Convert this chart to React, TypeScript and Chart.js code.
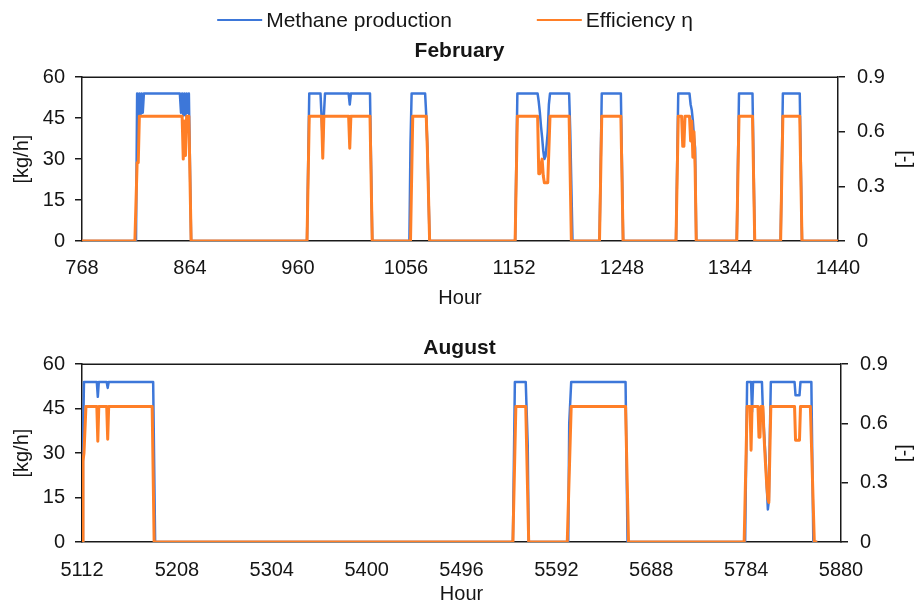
import React, { useEffect, useRef } from "react";
import { Chart, registerables } from "chart.js";

Chart.register(...registerables);

const FONT = "'Liberation Sans', Arial, Helvetica, sans-serif";
const BLUE = "#3D77D9";
const ORANGE = "#FF7F27";
const TEXT = "#151515";
const AXIS = "#1a1a1a";

const legendLabels = ["Methane production", "Efficiency η"];
const xAxisTitle = "Hour";
const leftAxisTitle = "[kg/h]";
const rightAxisTitle = "[-]";

const febTicks = [768, 864, 960, 1056, 1152, 1248, 1344, 1440];
const augTicks = [5112, 5208, 5304, 5400, 5496, 5592, 5688, 5784, 5880];
const methaneTicks = [0, 15, 30, 45, 60];
const effTicks = [0, 0.3, 0.6, 0.9];

// February – methane production [kg/h]
const febMethaneHours = [
  768, 816, 817, 818, 819, 820, 821, 822, 823, 855, 856, 857, 858, 859, 860, 861, 862, 863, 865,
  968, 970, 980, 981, 982, 983, 984, 1005, 1006, 1007, 1024, 1026,
  1059, 1060, 1061, 1073, 1074, 1075, 1077,
  1153, 1155, 1173, 1174, 1175, 1176, 1177, 1178, 1179, 1180, 1181, 1182, 1183, 1184, 1201, 1202, 1204,
  1228, 1230, 1247, 1249,
  1296, 1298, 1308, 1309, 1310, 1311, 1312, 1313, 1314,
  1350, 1352, 1364, 1366,
  1389, 1391, 1406, 1408,
  1440,
];
const febMethaneValues = [
  0, 0, 54, 46, 54, 46, 54, 47, 54, 54, 47, 54, 46, 54, 46, 54, 47, 54, 0,
  0, 54, 54, 45, 36, 46, 54, 54, 50, 54, 54, 0,
  0, 36, 54, 54, 46, 35, 0,
  0, 54, 54, 51, 47, 42, 38, 33, 30, 31, 35, 40, 50, 54, 54, 40, 0,
  0, 54, 54, 0,
  0, 54, 54, 50, 48, 44, 38, 34, 0,
  0, 54, 54, 0,
  0, 54, 54, 0,
  0,
];

// February – efficiency η [-]
const febEffHours = [
  768, 815, 817, 818, 819, 857, 858, 859, 860, 861, 863, 865,
  968, 970, 981, 982, 983, 1005, 1006, 1007, 1024, 1026,
  1060, 1062, 1074, 1075, 1077,
  1153, 1155, 1173, 1174, 1175, 1176, 1177, 1178, 1179, 1180, 1181, 1182, 1184, 1201, 1203,
  1228, 1230, 1247, 1249,
  1296, 1298, 1301, 1302, 1303, 1304, 1308, 1309, 1310, 1311, 1312, 1313, 1314,
  1350, 1352, 1364, 1366,
  1389, 1391, 1406, 1408,
  1440,
];
const febEffValues = [
  0, 0, 0.43, 0.43, 0.685, 0.685, 0.45, 0.66, 0.47, 0.685, 0.685, 0,
  0, 0.685, 0.685, 0.455, 0.685, 0.685, 0.51, 0.685, 0.685, 0,
  0, 0.685, 0.685, 0.5, 0,
  0, 0.685, 0.685, 0.37, 0.37, 0.42, 0.45, 0.36, 0.32, 0.32, 0.32, 0.32, 0.685, 0.685, 0,
  0, 0.685, 0.685, 0,
  0, 0.685, 0.685, 0.52, 0.52, 0.685, 0.685, 0.55, 0.66, 0.46, 0.6, 0.4, 0,
  0, 0.685, 0.685, 0,
  0, 0.685, 0.685, 0,
  0,
];

// August – methane production [kg/h]
const augMethaneHours = [
  5112, 5113, 5114, 5127, 5128, 5129, 5137, 5138, 5139, 5184, 5186,
  5548, 5550, 5561, 5563, 5564,
  5604, 5605, 5607, 5662, 5664,
  5783, 5785, 5789, 5790, 5791, 5800, 5801, 5802, 5803, 5804, 5805, 5806, 5807, 5808, 5809,
  5833, 5834, 5838, 5839, 5850, 5852, 5856,
];
const augMethaneValues = [
  0, 34, 54, 54, 49, 54, 54, 52, 54, 54, 0,
  0, 54, 54, 33, 0,
  0, 40, 54, 54, 0,
  0, 54, 54, 44, 54, 54, 44, 38, 32, 26, 18, 11, 14, 36, 54,
  54, 49.5, 49.5, 54, 54, 0, 0,
];

// August – efficiency η [-]
const augEffHours = [
  5112, 5113, 5114, 5116, 5127, 5128, 5129, 5137, 5138, 5139, 5183, 5185,
  5548, 5551, 5561, 5562, 5564,
  5603, 5607, 5662, 5665,
  5782, 5785, 5788, 5789, 5790, 5796, 5797, 5798, 5799, 5801, 5802, 5803, 5804, 5805, 5806, 5807, 5808, 5809,
  5833, 5834, 5838, 5839, 5849, 5853, 5856,
];
const augEffValues = [
  0, 0.41, 0.45, 0.686, 0.686, 0.51, 0.686, 0.686, 0.52, 0.686, 0.686, 0,
  0, 0.686, 0.686, 0.46, 0,
  0, 0.686, 0.686, 0,
  0, 0.686, 0.686, 0.465, 0.686, 0.686, 0.53, 0.53, 0.686, 0.686, 0.55, 0.45, 0.36, 0.28, 0.22, 0.2, 0.45, 0.686,
  0.686, 0.515, 0.515, 0.686, 0.686, 0, 0,
];

type Panel = {
  title: string;
  ticks: number[];
  methaneHours: number[];
  methaneValues: number[];
  effHours: number[];
  effValues: number[];
  height: number;
  titlePadTop: number;
  titlePadBottom: number;
  xAxisHeight: number;
  rightAxisWidth: number;
  tickPad: number;
  xTitlePadBottom: number;
  legend: boolean;
};

const panels: Panel[] = [
  {
    title: "February",
    ticks: febTicks,
    methaneHours: febMethaneHours,
    methaneValues: febMethaneValues,
    effHours: febEffHours,
    effValues: febEffValues,
    height: 312,
    titlePadTop: 39,
    titlePadBottom: 13,
    xAxisHeight: 71,
    rightAxisWidth: 81,
    tickPad: 15,
    xTitlePadBottom: 2,
    legend: true,
  },
  {
    title: "August",
    ticks: augTicks,
    methaneHours: augMethaneHours,
    methaneValues: augMethaneValues,
    effHours: augEffHours,
    effValues: augEffValues,
    height: 294,
    titlePadTop: 24,
    titlePadBottom: 3,
    xAxisHeight: 64,
    rightAxisWidth: 78,
    tickPad: 16,
    xTitlePadBottom: 0,
    legend: false,
  },
];

function buildPoints(hours: number[], values: number[]) {
  return hours.map((h, i) => ({ x: h, y: values[i] }));
}

const frameLegendPlugin = {
  id: "frameLegend",
  afterDraw(chart: any, _args: any, opts: any) {
    const { ctx, chartArea } = chart;
    ctx.save();
    ctx.strokeStyle = AXIS;
    ctx.lineWidth = 1.5;
    ctx.beginPath();
    ctx.moveTo(chartArea.left, chartArea.top);
    ctx.lineTo(chartArea.right, chartArea.top);
    ctx.stroke();
    if (opts && opts.legend) {
      ctx.font = `21px ${FONT}`;
      ctx.textBaseline = "middle";
      ctx.textAlign = "left";
      const items = [
        { label: legendLabels[0], color: BLUE },
        { label: legendLabels[1], color: ORANGE },
      ];
      const lineLen = 45;
      const textGap = 4;
      const itemGap = 85;
      const widths = items.map((it) => lineLen + textGap + ctx.measureText(it.label).width);
      const total = widths[0] + itemGap + widths[1];
      let x = 455 - total / 2;
      const y = 20;
      items.forEach((it, i) => {
        ctx.strokeStyle = it.color;
        ctx.lineWidth = 2;
        ctx.beginPath();
        ctx.moveTo(x, y);
        ctx.lineTo(x + lineLen, y);
        ctx.stroke();
        ctx.fillStyle = TEXT;
        ctx.fillText(it.label, x + lineLen + textGap, y + 1);
        x += widths[i] + itemGap;
      });
    }
    ctx.restore();
  },
};

function makeConfig(p: Panel): any {
  const font = { family: FONT, size: 20 };
  return {
    type: "line",
    data: {
      datasets: [
        {
          label: legendLabels[1],
          data: buildPoints(p.effHours, p.effValues),
          yAxisID: "y1",
          borderColor: ORANGE,
          backgroundColor: ORANGE,
          borderWidth: 3,
          pointRadius: 0,
          tension: 0,
          borderJoinStyle: "round",
          order: 0,
        },
        {
          label: legendLabels[0],
          data: buildPoints(p.methaneHours, p.methaneValues),
          yAxisID: "y",
          borderColor: BLUE,
          backgroundColor: BLUE,
          borderWidth: 2.5,
          pointRadius: 0,
          tension: 0,
          borderJoinStyle: "round",
          order: 1,
        },
      ],
    },
    options: {
      responsive: false,
      animation: false,
      devicePixelRatio: 1,
      events: [],
      layout: { padding: { top: 0, left: 0, right: 0, bottom: 0 } },
      plugins: {
        legend: { display: false },
        tooltip: { enabled: false },
        title: {
          display: true,
          text: p.title,
          color: TEXT,
          font: { family: FONT, size: 21, weight: "bold" },
          padding: { top: p.titlePadTop, bottom: p.titlePadBottom },
        },
        frameLegend: { legend: p.legend },
      },
      scales: {
        x: {
          type: "linear",
          min: p.ticks[0],
          max: p.ticks[p.ticks.length - 1],
          afterBuildTicks: (scale: any) => {
            scale.ticks = p.ticks.map((v) => ({ value: v }));
          },
          afterFit: (scale: any) => {
            scale.height = p.xAxisHeight;
          },
          ticks: {
            autoSkip: false,
            maxRotation: 0,
            padding: p.tickPad,
            color: TEXT,
            font,
            callback: (v: any) => String(v),
          },
          grid: { display: false, drawTicks: false },
          border: { display: true, color: AXIS, width: 1.5 },
          title: {
            display: true,
            text: xAxisTitle,
            color: TEXT,
            font,
            padding: { top: 0, bottom: p.xTitlePadBottom },
          },
        },
        y: {
          type: "linear",
          position: "left",
          min: 0,
          max: 60,
          afterBuildTicks: (scale: any) => {
            scale.ticks = methaneTicks.map((v) => ({ value: v }));
          },
          afterFit: (scale: any) => {
            scale.width = 82;
          },
          ticks: {
            padding: 10,
            color: TEXT,
            font,
            callback: (v: any) => String(v),
          },
          grid: {
            display: true,
            drawOnChartArea: false,
            drawTicks: true,
            tickLength: 7,
            color: AXIS,
            lineWidth: 1.5,
          },
          border: { display: true, color: AXIS, width: 1.5 },
          title: {
            display: true,
            text: leftAxisTitle,
            color: TEXT,
            font,
            padding: { top: 10, bottom: 0 },
          },
        },
        y1: {
          type: "linear",
          position: "right",
          min: 0,
          max: 0.9,
          afterBuildTicks: (scale: any) => {
            scale.ticks = effTicks.map((v) => ({ value: v }));
          },
          afterFit: (scale: any) => {
            scale.width = p.rightAxisWidth;
          },
          ticks: {
            padding: 12,
            color: TEXT,
            font,
            callback: (v: any) => (v === 0 ? "0" : Number(v).toFixed(1)),
          },
          grid: {
            display: true,
            drawOnChartArea: false,
            drawTicks: true,
            tickLength: 7,
            color: AXIS,
            lineWidth: 1.5,
          },
          border: { display: true, color: AXIS, width: 1.5 },
          title: {
            display: true,
            text: rightAxisTitle,
            color: TEXT,
            font,
            padding: { top: 2, bottom: 0 },
          },
        },
      },
    },
    plugins: [frameLegendPlugin],
  };
}

function ChartPanel({ panel, top }: { panel: Panel; top: number }) {
  const ref = useRef<HTMLCanvasElement | null>(null);
  useEffect(() => {
    if (!ref.current) return;
    const chart = new Chart(ref.current, makeConfig(panel));
    return () => chart.destroy();
  }, [panel]);
  return (
    <canvas
      ref={ref}
      width={919}
      height={panel.height}
      style={{ position: "absolute", left: 0, top, width: 919, height: panel.height, display: "block" }}
    />
  );
}

export default function App() {
  return (
    <div
      style={{
        position: "absolute",
        left: 0,
        top: 0,
        width: 919,
        height: 606,
        background: "#ffffff",
        overflow: "hidden",
      }}
    >
      <ChartPanel panel={panels[0]} top={0} />
      <ChartPanel panel={panels[1]} top={panels[0].height} />
    </div>
  );
}
